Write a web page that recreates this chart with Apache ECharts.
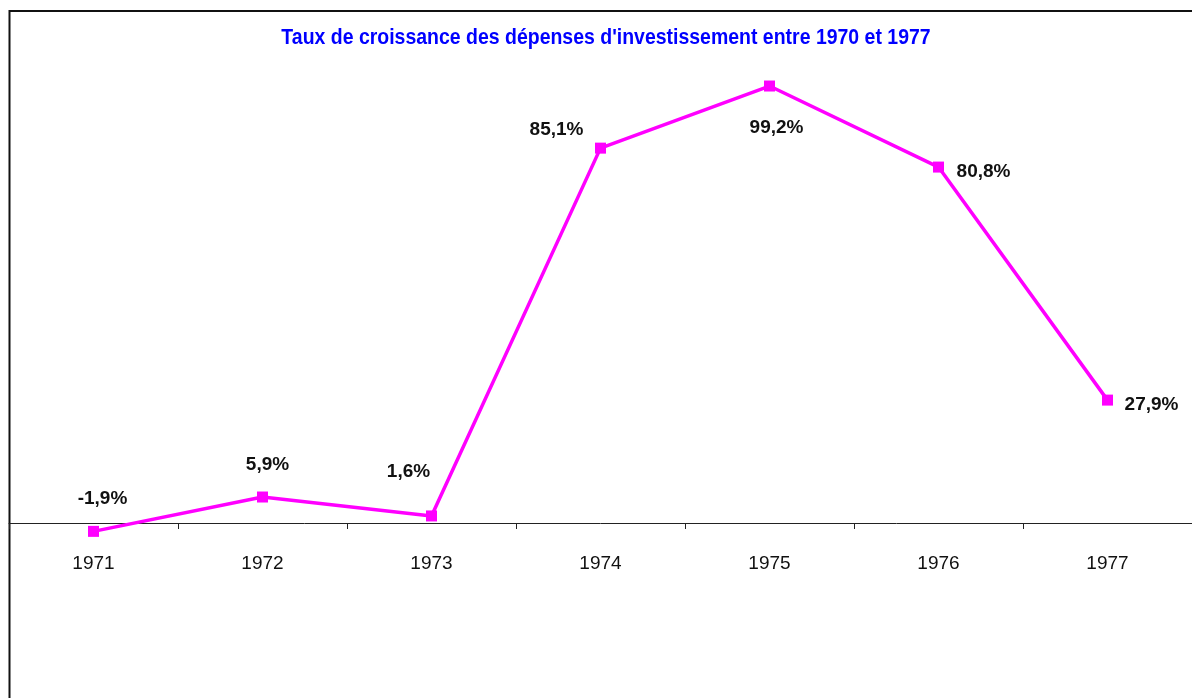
<!DOCTYPE html>
<html><head><meta charset="utf-8">
<script src="https://cdn.jsdelivr.net/npm/echarts@6/dist/echarts.min.js"></script>
<style>html,body{margin:0;padding:0;background:#fff}#c{width:1192px;height:698px}</style>
</head><body><div id="c"></div>
<script>
var years = ['1971','1972','1973','1974','1975','1976','1977'];
var growth = [-1.9, 5.9, 1.6, 85.1, 99.2, 80.8, 27.9];
var titleText = "Taux de croissance des dépenses d'investissement entre 1970 et 1977";
// label placement relative to each marker (layout only)
var labelShift = [[9,-33],[5,-32],[-23,-44],[-44,-18],[7,42],[45,5],[44,5]];

var chart = echarts.init(document.getElementById('c'));
var seriesData = growth.map(function(v,i){
  return {value:v, label:{offset:labelShift[i]}};
});
chart.setOption({
  animation:false,
  backgroundColor:'#fff',
  graphic:[
    {type:'rect',shape:{x:9.5,y:11,width:1400,height:900},
     style:{fill:'none',stroke:'#111',lineWidth:2},z:-1},
    {type:'text',x:606,y:38,scaleX:0.885,
     style:{text:titleText,fill:'#0000FF',font:'bold 22px "Liberation Sans", Arial, sans-serif',
       textAlign:'center',textVerticalAlign:'middle'}}
  ],
  grid:{left:9,right:-7,top:82.5,bottom:175},
  xAxis:{type:'category',data:years,boundaryGap:true,
    axisLine:{lineStyle:{color:'#222',width:1}},
    axisTick:{show:true,length:6,lineStyle:{color:'#222'}},
    axisLabel:{color:'#111',fontFamily:'Liberation Sans',fontSize:19,margin:31}},
  yAxis:{type:'value',min:0,max:100,show:false,splitLine:{show:false}},
  series:[{type:'line',data:seriesData,clip:false,
    symbol:'rect',symbolSize:11,
    itemStyle:{color:'#FF00FF'},
    lineStyle:{color:'#FF00FF',width:3.5},
    label:{show:true,position:'inside',color:'#111',fontFamily:'Liberation Sans',fontWeight:'bold',fontSize:19,
      formatter:function(p){return p.value.toFixed(1).replace('.',',')+'%';}}
  }]
});
</script></body></html>
